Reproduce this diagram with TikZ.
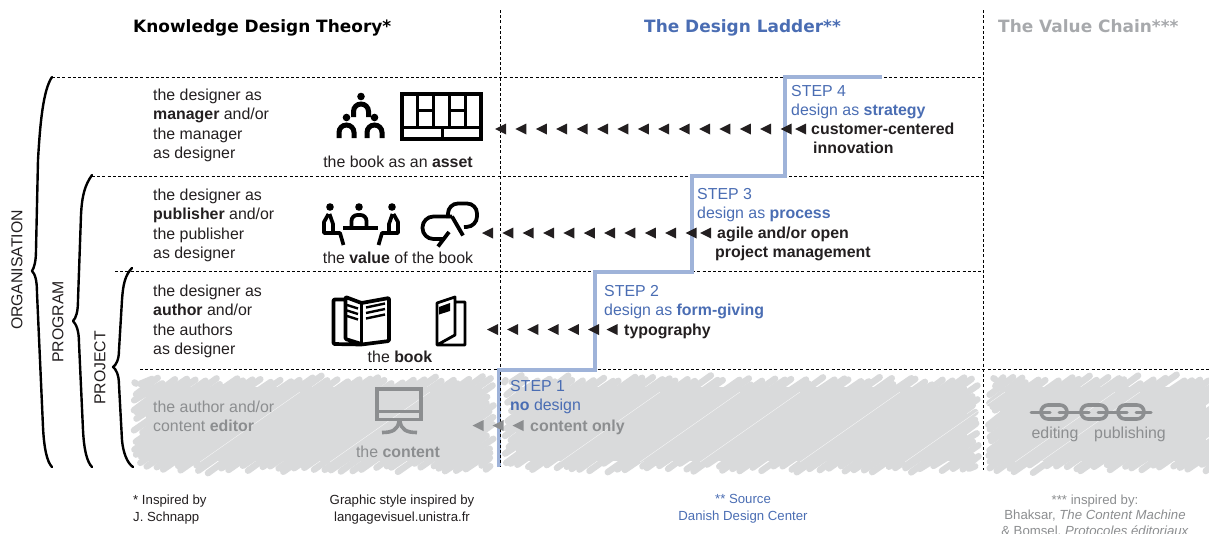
\documentclass[tikz,border=0pt]{standalone}
\usepackage{fontspec}
\setmainfont{Liberation Sans}
\newfontfamily\headfont{DejaVu Sans}
\definecolor{inkc}{HTML}{231F20}
\definecolor{bluec}{HTML}{4A6DB3}
\definecolor{stepc}{HTML}{9FB3D9}
\definecolor{greyc}{HTML}{8C8E90}
\definecolor{headg}{HTML}{A7A9AC}
\definecolor{scribc}{HTML}{D9DADB}
\newcommand\ml{\rule{0pt}{12pt}}
\newcommand\scrib[4]{%
  \fill[scribc] (#1+8,#2+7) rectangle (#3-8,#4-7);
  \pgfmathsetmacro\hh{#4-#2}
  \pgfmathsetmacro\cfirst{#1-\hh/0.7}
  \pgfmathsetmacro\csecond{\cfirst+9.5}
  \foreach \c in {\cfirst,\csecond,...,#3}{
    \pgfmathsetmacro\xs{max(\c,#1)+9*rnd-4.5}
    \pgfmathsetmacro\ys{#4-0.7*(\xs-\c)+5*rnd-2.5}
    \pgfmathsetmacro\xe{min(\c+\hh/0.7,#3)+9*rnd-4.5}
    \pgfmathsetmacro\ye{#4-0.7*(\xe-\c)+5*rnd-2.5}
    \draw[scribc,line width=6.5pt,line cap=round] (\xs,\ys) -- (\xe,\ye);
  }
}
\newcommand\tris[5]{% start tip, spacing, count-1, y, colour
  \foreach \i in {0,...,#3}{
    \fill[#5] ({#1+#2*\i},#4) -- ++(11,-5.5) -- ++(0,11) -- cycle;
  }
}
\tikzset{
  txt/.style={anchor=north west,inner sep=0pt,align=left,text=inkc,font=\fontsize{15.9}{19.2}\selectfont},
  bluetxt/.style={txt,text=bluec},
  greytxt/.style={txt,text=greyc},
  captxt/.style={anchor=center,inner sep=0pt,align=center,text=inkc,font=\fontsize{15.9}{19.2}\selectfont},
  foot/.style={anchor=north,inner sep=0pt,align=center,text=inkc,font=\fontsize{13.2}{17}\selectfont},
  head/.style={anchor=mid west,inner sep=0pt,font=\headfont\bfseries\fontsize{16.95}{20}\selectfont},
  vlab/.style={rotate=90,anchor=center,inner sep=0pt,text=inkc,font=\fontsize{15.8}{19}\selectfont},
  gridline/.style={black,dash pattern=on 3pt off 2.2pt,line width=.8pt},
  bracel/.style={black,line width=2.4pt,line cap=round,line join=round},
  icon/.style={black,line width=3.7pt,line join=round},
  arch/.style={black,line width=5pt,rounded corners=7.5pt},
  iconhead/.style={black},
  steps/.style={stepc,line width=4pt,line join=miter},
}
\begin{document}
\begin{tikzpicture}[x=1pt,y=-1pt]
\useasboundingbox (0,0) rectangle (1209,533);
\pgfmathsetseed{1234}
% scribbles
\scrib{138}{380}{490}{468}
\scrib{508}{380}{975}{468}
\scrib{992}{380}{1214}{468}
\foreach \a in {560,640,700,800,905,1015,1040,200,330}{
  \draw[white,line width=.35pt,opacity=.8] (\a,462) -- (\a+100,392);
}
% headings
\node[head,text=black] (h1) at (133,29.5) {Knowledge Design Theory*};
\node[head,text=bluec] (h2) at (644,29.5) {The Design Ladder**};
\node[head,text=headg] (h3) at (998,29.5) {The Value Chain***};
% grid
\draw[gridline] (500,10) -- (500,467);
\draw[gridline] (983,10) -- (983,470);
\draw[gridline] (52,77) -- (983,77);
\draw[gridline] (92,176) -- (983,176);
\draw[gridline] (115,271) -- (983,271);
\draw[gridline] (140,369) -- (1209,369);
% ladder
\draw[steps] (499,467) -- (499,370) -- (595,370) -- (595,271.5) -- (692,271.5) -- (692,176) -- (785,176) -- (785,77) -- (882,77);
\draw[gridline] (500,372) -- (500,467);
% braces
\draw[bracel] (52,77) .. controls (43,90) and (40,125) .. (38,160) -- (36,250) .. controls (36,262) and (34,268) .. (32,271) .. controls (35,274) and (37,280) .. (37,293) -- (43,427) .. controls (44,448) and (47,462) .. (52,467);
\draw[bracel] (92,175) .. controls (85,185) and (82,195) .. (81,215) -- (78,300) .. controls (78,312) and (76,318) .. (73,321) .. controls (76,324) and (79,330) .. (79,343) -- (83,430) .. controls (84,450) and (87,462) .. (92,467);
\draw[bracel] (132,268) .. controls (125,275) and (123,285) .. (122,300) -- (119,350) .. controls (119,360) and (116,365) .. (113,367) .. controls (116,369) and (119,375) .. (119,385) -- (122,440) .. controls (123,452) and (127,463) .. (133,467);
\node[vlab] (org) at (17,270) {ORGANISATION};
\node[vlab] (prog) at (58,322) {PROGRAM};
\node[vlab] (proj) at (100,368) {PROJECT};
% left column
\node[txt] (a1) at (153,88.5) {\ml the designer as\\\textbf{manager} and/or\\the manager\\as designer};
\node[txt] (a2) at (153,188.5) {\ml the designer as\\\textbf{publisher} and/or\\the publisher\\as designer};
\node[txt] (a3) at (153,284.5) {\ml the designer as\\\textbf{author} and/or\\the authors\\as designer};
\node[greytxt] (a4) at (153,400.5) {\ml the author and/or\\content \textbf{editor}};
% captions
\node[captxt] (c1) at (398,162) {the book as an \textbf{asset}};
\node[captxt] (c2) at (398,258) {the \textbf{value} of the book};
\node[captxt] (c3) at (400,357) {the \textbf{book}};
\node[captxt,text=greyc] (c4) at (398,452) {the \textbf{content}};
% icon: hierarchy
\foreach \x/\y in {361/117,346.5/138,374.5/138}{
  \fill[iconhead] (\x,\y-20.5) circle (3.8);
  \draw[arch] (\x-7.5,\y) -- (\x-7.5,\y-13) -- (\x+7.5,\y-13) -- (\x+7.5,\y);
}
% icon: asset grid
\draw[black,line width=3.6pt] (401.8,93.8) rectangle (481.2,139.2);
\draw[black,line width=3pt] (417,93) -- (417,127) (433,93) -- (433,127) (449,93) -- (449,127) (465,93) -- (465,127)
  (401,127) -- (482,127) (442,127) -- (442,140) (417,110) -- (433,110) (449,110) -- (465,110);
% icon: meeting
\foreach \x in {330,359,392}{\fill[iconhead] (\x,207) circle (3.8);}
\draw[black,line width=4pt] (343,227.5) -- (378,227.5);
\draw[black,line width=3.8pt,rounded corners=6pt] (351.5,227) -- (351.5,215) -- (366.5,215) -- (366.5,227);
\draw[icon] (328.5,214) -- (324,222) -- (324,233) -- (340,233) -- (343.5,245);
\draw[icon] (329.5,214) -- (333,224) -- (333,231);
\draw[icon] (393.5,214) -- (398,222) -- (398,233) -- (382,233) -- (378.5,245);
\draw[icon] (392.5,214) -- (389,224) -- (389,231);
% icon: speech
\draw[black,line width=3.8pt,rounded corners=11pt] (452,216.5) -- (422.5,216.5) -- (422.5,239) -- (444,239);
\draw[black,line width=3.8pt] (449,232) -- (438,246.5);
\draw[black,line width=3.8pt,rounded corners=10pt] (448,218) -- (448,203.5) -- (477,203.5) -- (477,226.5) -- (464,227);
\draw[black,line width=3.8pt] (452,216.5) -- (463,235.5);
% icon: open book
\draw[icon,rounded corners=1pt] (345,299.5) -- (333.5,299.5) -- (333.5,344) -- (361.5,344.5) -- (389,341) -- (389,298) -- (361.5,303) -- (345.5,297) -- (345.5,339) -- (361.5,344);
\draw[icon] (361.5,303) -- (361.5,344);
\foreach \d in {0,5.5,11}{
  \draw[black,line width=2.4pt] (347,305+\d) -- (358,308.5+\d);
  \draw[black,line width=2.4pt] (366,307.5+\d) -- (385,303.5+\d);
}
% icon: brochure
\draw[black,line width=2.8pt,line join=round] (455,302) -- (465,302) -- (465,345) -- (437,345) -- (437,303) -- (455,297) -- (455,335) -- (437,345);
\fill[black] (439,307) -- (450,303) -- (450,311) -- (439,314.5) -- cycle;
% icon: content
\draw[greyc,line width=3.6pt] (376.8,388.8) rectangle (421.2,419.5);
\draw[greyc,line width=2.4pt] (376,411.5) -- (422,411.5);
\draw[greyc,line width=3.6pt] (382,432.5) .. controls (392,432.5) and (398,430) .. (399,421) ;
\draw[greyc,line width=3.6pt] (417,432.5) .. controls (407,432.5) and (401,430) .. (400,421) ;
% icon: chain
\draw[greyc,line width=3pt,line cap=round] (1031,412) -- (1050,412) (1059,412) -- (1089,412) (1098,412) -- (1127,412) (1136,412) -- (1151,412);
\foreach \x in {1041,1081,1118}{
  \draw[greyc,line width=3.6pt,rounded corners=7pt] (\x,405) rectangle (\x+26,419);
}
\node[captxt,text=greyc] (c5) at (1055,434) {editing};
\node[captxt,text=greyc] (c6) at (1130,434) {publishing};
% arrow rows
\tris{495}{20.4}{14}{129}{inkc}
\fill[inkc] (795,129) -- ++(11,-5.5) -- ++(0,11) -- cycle;
\tris{482}{20.35}{10}{233}{inkc}
\fill[inkc] (700,233) -- ++(11,-5.5) -- ++(0,11) -- cycle;
\tris{487}{20.2}{5}{329.5}{inkc}
\fill[inkc] (606.5,329.5) -- ++(11,-5.5) -- ++(0,11) -- cycle;
\tris{472.5}{20}{1}{425.5}{greyc}
\fill[greyc] (512.5,425.5) -- ++(11,-5.5) -- ++(0,11) -- cycle;
% ladder text
\node[bluetxt] (s4) at (791,84.5) {\ml STEP 4\\design as \textbf{strategy}};
\node[bluetxt] (s3) at (697,187.5) {\ml STEP 3\\design as \textbf{process}};
\node[bluetxt] (s2) at (604,284.5) {\ml STEP 2\\design as \textbf{form-giving}};
\node[bluetxt] (s1) at (510,379.5) {\ml STEP 1\\\textbf{no} design};
\node[txt] (d4a) at (811,122.5) {\ml\textbf{customer-centered}\\\hspace*{2pt}\textbf{innovation}};
\node[txt] (d3a) at (717,226.5) {\ml\textbf{agile and/or open}\\\hspace*{-2pt}\textbf{project management}};
\node[txt] (d2) at (624,323.5) {\ml\textbf{typography}};
\node[greytxt] (d1) at (530,419.5) {\ml\textbf{content only}};
% footnotes
\node[foot,align=left,anchor=north west] (f1) at (133,494.5) {* Inspired by\\J. Schnapp};
\node[foot] (f2) at (402,494.5) {Graphic style inspired by\\langagevisuel.unistra.fr};
\node[foot,text=bluec] (f3) at (743,494.5) {** Source\\Danish Design Center};
\node[foot,text=greyc,font=\fontsize{13.2}{15.6}\selectfont] (f4) at (1095,494.5) {*** inspired by:\\Bhaksar, \textit{The Content Machine}\\\& Bomsel, \textit{Protocoles éditoriaux}};
\end{tikzpicture}
\end{document}
